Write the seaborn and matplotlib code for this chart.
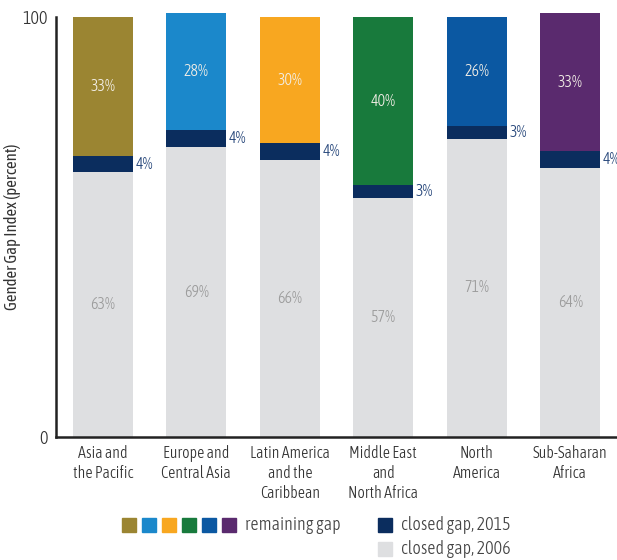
import pandas as pd
import seaborn as sns
import matplotlib.pyplot as plt
from matplotlib.patches import Rectangle
from matplotlib import font_manager

# Data
regions = ['Asia and\nthe Pacific', 'Europe and\nCentral Asia', 'Latin America\nand the\nCaribbean',
           'Middle East\nand\nNorth Africa', 'North\nAmerica', 'Sub-Saharan\nAfrica']
closed_2006 = [63, 69, 66, 57, 71, 64]
closed_2015 = [4, 4, 4, 3, 3, 4]
remaining = [33, 28, 30, 40, 26, 33]
region_colors = ['#9B8532', '#1B88CB', '#F8A720', '#187A3C', '#0B58A2', '#5A2A6E']

navy = '#0B2D5E'
light_grey = '#DEDFE1'

sns.set_style('white')
# look for a narrow/condensed sans face (lightest weight available), otherwise Roboto
fam = 'Roboto'
fweight = 'normal'
narrow = [f for f in font_manager.fontManager.ttflist
          if ('Narrow' in f.name or 'Condensed' in f.name) and f.style == 'normal']
if narrow:
    def wnum(f):
        return f.weight if isinstance(f.weight, int) else font_manager.weight_dict.get(f.weight, 400)
    narrow.sort(key=lambda f: abs(wnum(f) - 300))
    fam = narrow[0].name
    fweight = wnum(narrow[0])
plt.rcParams['font.family'] = [fam, 'DejaVu Sans']
plt.rcParams['font.weight'] = fweight

df = pd.DataFrame({'region': regions, 'c2006': closed_2006, 'c2015': closed_2015, 'rem': remaining})
df['upto2015'] = df['c2006'] + df['c2015']
df['total'] = df['upto2015'] + df['rem']

fig = plt.figure(figsize=(6.17, 5.6), dpi=100)
ax = fig.add_axes([0.091, 0.2196, 0.909, 0.75])

w = 0.64
# stacked by overlaying cumulative totals
sns.barplot(data=df, x='region', y='total', hue='region', palette=region_colors, legend=False,
            width=w, saturation=1, linewidth=0, ax=ax, clip_on=False)
sns.barplot(data=df, x='region', y='upto2015', color=navy, width=w, saturation=1, linewidth=0, ax=ax)
sns.barplot(data=df, x='region', y='c2006', color=light_grey, width=w, saturation=1, linewidth=0, ax=ax)

for i in range(len(regions)):
    ax.text(i, closed_2006[i] / 2, f'{closed_2006[i]}%', ha='center', va='center', color='#9C9C9C', fontsize=11.5)
    ax.text(i, df['upto2015'][i] + remaining[i] / 2, f'{remaining[i]}%', ha='center', va='center',
            color='#F2EEE6', fontsize=11.5)
    ax.text(i + w / 2 + 0.03, closed_2006[i] + closed_2015[i] / 2, f'{closed_2015[i]}%', ha='left',
            va='center', color='#26467A', fontsize=11.5, clip_on=False)

ax.set_xlim(-0.5, 5.5)
ax.set_ylim(0, 100)
ax.set_yticks([0, 100])
ax.set_yticklabels(['0', '100'], fontsize=13, color='#333333')
ax.tick_params(axis='x', labelsize=11.5, colors='#333333', length=0, pad=6)
ax.tick_params(axis='y', length=0, pad=6)
ax.set_xlabel('')
ax.set_ylabel('Gender Gap Index (percent)', fontsize=12, color='#333333', labelpad=1)
for s in ['top', 'right']:
    ax.spines[s].set_visible(False)
for s in ['left', 'bottom']:
    ax.spines[s].set_color('#222222')
    ax.spines[s].set_linewidth(1.8)

# Custom legend
sq = 14 / 617
sqh = 14 / 560
for k, c in enumerate(region_colors):
    x0 = (122 + k * 20) / 617
    fig.add_artist(Rectangle((x0, 1 - 532 / 560), sq, sqh, color=c, transform=fig.transFigure))
fig.text(245 / 617, 1 - 525 / 560, 'remaining gap', fontsize=13, color='#444444', va='center')
fig.add_artist(Rectangle((378 / 617, 1 - 532 / 560), sq, sqh, color=navy, transform=fig.transFigure))
fig.text(401 / 617, 1 - 525 / 560, 'closed gap, 2015', fontsize=13, color='#444444', va='center')
fig.add_artist(Rectangle((378 / 617, 1 - 556 / 560), sq, sqh, color=light_grey, transform=fig.transFigure))
fig.text(401 / 617, 1 - 549 / 560, 'closed gap, 2006', fontsize=13, color='#444444', va='center')

fig.savefig('out.png', dpi=100)
